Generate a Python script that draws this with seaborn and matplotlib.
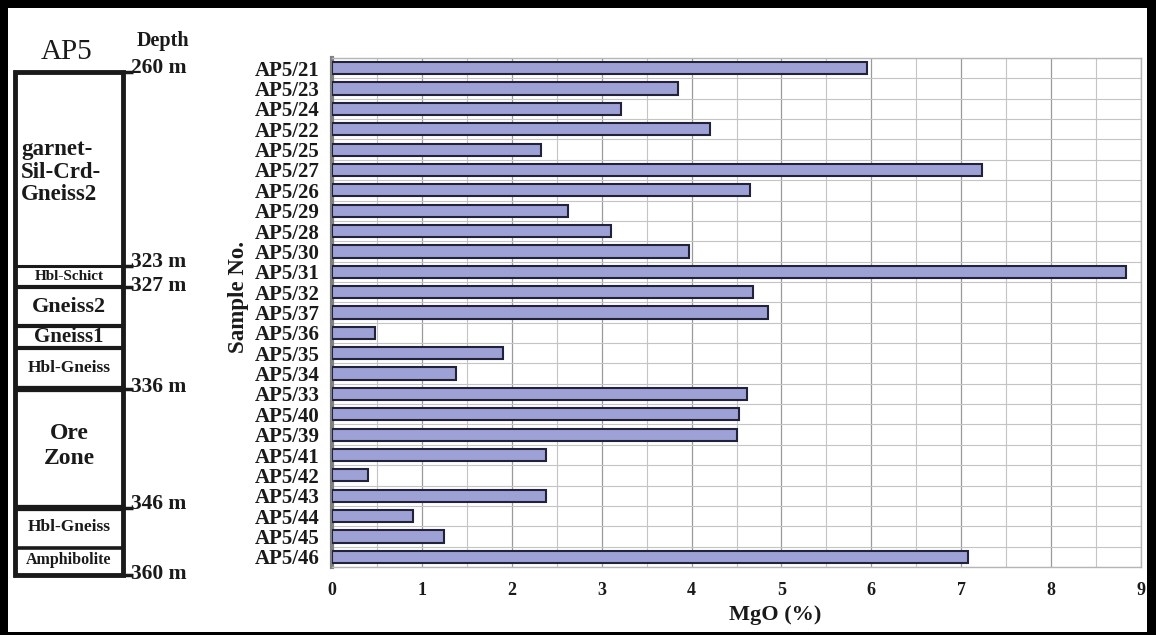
import numpy as np
import pandas as pd
import matplotlib
matplotlib.use("Agg")
import matplotlib.pyplot as plt
from matplotlib.patches import Rectangle
import seaborn as sns

# ---------------- data ----------------
samples = ["AP5/21", "AP5/23", "AP5/24", "AP5/22", "AP5/25", "AP5/27", "AP5/26",
           "AP5/29", "AP5/28", "AP5/30", "AP5/31", "AP5/32", "AP5/37", "AP5/36",
           "AP5/35", "AP5/34", "AP5/33", "AP5/40", "AP5/39", "AP5/41", "AP5/42",
           "AP5/43", "AP5/44", "AP5/45", "AP5/46"]
mgo = [5.95, 3.85, 3.22, 4.20, 2.33, 7.23, 4.65, 2.63, 3.10, 3.97, 8.83, 4.68,
       4.85, 0.48, 1.90, 1.38, 4.62, 4.53, 4.50, 2.38, 0.40, 2.38, 0.90, 1.25, 7.07]
x_ticks = [0, 1, 2, 3, 4, 5, 6, 7, 8, 9]

depth_labels = ["260 m", "323 m", "327 m", "336 m", "346 m", "360 m"]
layer_names = ["garnet-\nSil-Crd-\nGneiss2", "Hbl-Schict", "Gneiss2", "Gneiss1",
               "Hbl-Gneiss", "Ore\nZone", "Hbl-Gneiss", "Amphibolite"]

df = pd.DataFrame({"Sample": samples, "MgO": mgo})

# ---------------- style ----------------
sns.set_style("white")
plt.rcParams["font.family"] = ["Liberation Serif", "DejaVu Serif"]
plt.rcParams["font.weight"] = "bold"

INK = "#1a1a1a"
W, H = 1156, 635
fig = plt.figure(figsize=(W / 100, H / 100), dpi=100)

# background/annotation axes in pixel coordinates
bg = fig.add_axes([0, 0, 1, 1], zorder=0)
bg.set_xlim(0, W)
bg.set_ylim(H, 0)
bg.axis("off")

# outer frame
bg.add_patch(Rectangle((0, 0), W, 8, color="black", lw=0))
bg.add_patch(Rectangle((0, 0), 8, H, color="black", lw=0))
bg.add_patch(Rectangle((W - 9, 0), 9, H, color="black", lw=0))
bg.add_patch(Rectangle((0, H - 3), W, 3, color="black", lw=0))

# lithology column
colx0, colx1 = 15, 123
bg.add_patch(Rectangle((colx0, 72), colx1 - colx0, 503, fill=False,
                       ec=INK, lw=3.5))
sep_y = [266, 287, 326, 348, 389, 508, 548]
sep_lw = [2.2, 3.0, 3.0, 3.0, 4.5, 4.5, 2.6]
for yy, lw in zip(sep_y, sep_lw):
    bg.plot([colx0, colx1], [yy, yy], color=INK, lw=lw, solid_capstyle="butt")

# depth ticks & labels
depth_y = [72, 266, 287, 389, 508, 575]
depth_text_y = [68, 262, 286, 387, 504, 574]
for yy, ty, lab in zip(depth_y, depth_text_y, depth_labels):
    bg.plot([colx1, 133], [yy, yy], color=INK, lw=2.5, solid_capstyle="butt")
    bg.text(131, ty, lab, fontsize=15.5, fontweight="bold", ha="left", va="center",
            color=INK)

bg.text(67, 52, "AP5", fontsize=21, fontweight="normal", ha="center", va="center",
        color=INK)
bg.text(163, 41, "Depth", fontsize=14.5, fontweight="bold", ha="center", va="center",
        color=INK)

# layer names
bg.text(21, 172, layer_names[0], fontsize=16.5, fontweight="bold", ha="left",
        va="center", linespacing=1.12, color=INK)
bg.text(69, 277, layer_names[1], fontsize=11, fontweight="bold", ha="center",
        va="center", color=INK)
bg.text(69, 307, layer_names[2], fontsize=16, fontweight="bold", ha="center",
        va="center", color=INK)
bg.text(69, 337, layer_names[3], fontsize=15, fontweight="bold", ha="center",
        va="center", color=INK)
bg.text(69, 368, layer_names[4], fontsize=12.5, fontweight="bold", ha="center",
        va="center", color=INK)
bg.text(69, 446, layer_names[5], fontsize=17, fontweight="bold", ha="center",
        va="center", linespacing=1.3, color=INK)
bg.text(69, 527, layer_names[6], fontsize=12.5, fontweight="bold", ha="center",
        va="center", color=INK)
bg.text(69, 560, layer_names[7], fontsize=11.5, fontweight="bold", ha="center",
        va="center", color=INK)

# ---------------- bar chart ----------------
left, right = 332 / W, 1141 / W
top, bottom = 1 - 58 / H, 1 - 567 / H
ax = fig.add_axes([left, bottom, right - left, top - bottom], zorder=1)
ax.set_facecolor("white")

sns.barplot(data=df, x="MgO", y="Sample", order=samples, orient="h",
            color="#9da1d5", edgecolor="#22223a", linewidth=1.5,
            width=0.6, saturation=1, ax=ax, zorder=3)

ax.set_xlim(0, 9)
ax.set_ylim(len(samples) - 0.5, -0.5)
ax.set_xticks(x_ticks)
ax.set_xticklabels([str(t) for t in x_ticks], fontsize=13, fontweight="bold")
ax.set_xticks(np.arange(0, 9.01, 0.5), minor=True)
ax.set_yticks(np.arange(-0.5, len(samples), 0.5), minor=True)
ax.tick_params(axis="y", which="major", length=0, pad=9, labelsize=15, labelcolor=INK)
ax.tick_params(axis="y", which="minor", length=4, color="#999999", width=1)
ax.tick_params(axis="x", which="major", length=4, color="#999999", pad=7, labelcolor=INK)
ax.tick_params(axis="x", which="minor", length=0)
for lab in ax.get_yticklabels():
    lab.set_fontweight("bold")

ax.grid(which="minor", axis="both", color="#c4c4c4", lw=0.8)
ax.grid(which="major", axis="x", color="#9a9a9a", lw=0.9)
ax.set_axisbelow(True)

for side in ["top", "right", "bottom"]:
    ax.spines[side].set_color("#b5b5b5")
    ax.spines[side].set_linewidth(1.0)
ax.spines["left"].set_color("#808080")
ax.spines["left"].set_linewidth(3.0)

ax.set_xlabel("MgO (%)", fontsize=16, fontweight="bold", color=INK)
ax.set_ylabel("Sample No.", fontsize=16.5, fontweight="bold", color=INK)
ax.xaxis.set_label_coords(0.548, -0.075)
ax.yaxis.set_label_coords(-0.103, 0.53)

fig.savefig("out.png", dpi=100)
